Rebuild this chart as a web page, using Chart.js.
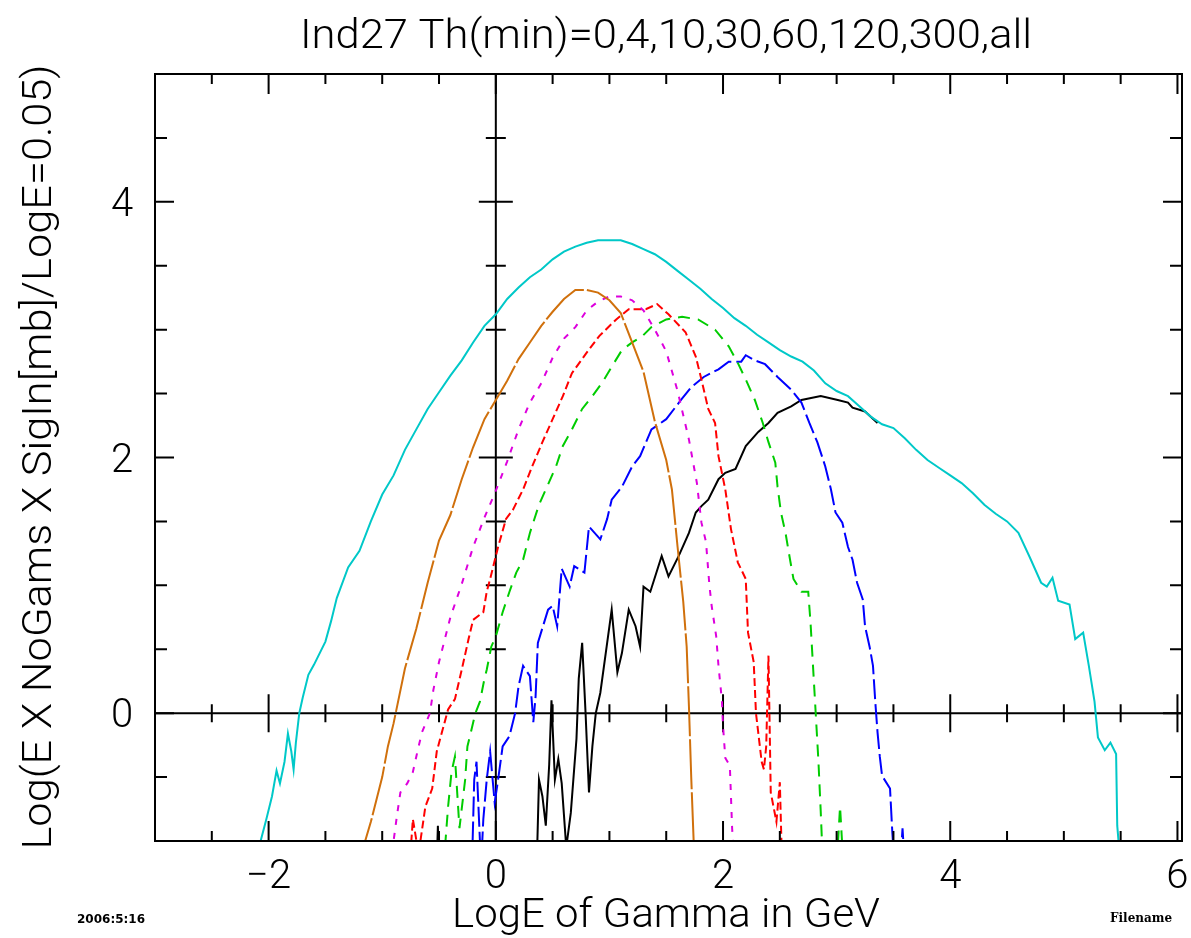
<!DOCTYPE html>
<html>
<head>
<meta charset="utf-8">
<script src="https://cdn.jsdelivr.net/npm/chart.js@4/dist/chart.umd.min.js"></script>
<style>
  html, body { margin: 0; padding: 0; background: #fff; }
  #wrap { width: 1191px; height: 938px; }
</style>
</head>
<body>
<div id="wrap"><canvas id="c"></canvas></div>
<script>
// Spectra, [LogE, value] pairs (values below -1 are clipped)
const thAll = [[-2.15,-1.2],[-2.1,-1.1],[-2.02,-0.83],[-1.97,-0.65],[-1.93,-0.45],[-1.9,-0.55],[-1.86,-0.38],[-1.83,-0.16],[-1.8,-0.3],[-1.78,-0.44],[-1.76,-0.23],[-1.73,0.0],[-1.7,0.12],[-1.65,0.3],[-1.6,0.38],[-1.5,0.56],[-1.45,0.72],[-1.4,0.9],[-1.3,1.14],[-1.2,1.27],[-1.1,1.5],[-1.0,1.71],[-0.9,1.86],[-0.8,2.06],[-0.7,2.22],[-0.6,2.38],[-0.5,2.51],[-0.4,2.64],[-0.3,2.76],[-0.2,2.9],[-0.1,3.03],[0.0,3.12],[0.1,3.24],[0.2,3.33],[0.3,3.41],[0.4,3.47],[0.5,3.55],[0.6,3.61],[0.7,3.65],[0.8,3.68],[0.9,3.7],[1.0,3.7],[1.1,3.7],[1.2,3.67],[1.3,3.63],[1.4,3.59],[1.5,3.53],[1.6,3.46],[1.7,3.39],[1.8,3.32],[1.9,3.24],[2.0,3.17],[2.1,3.09],[2.2,3.03],[2.3,2.96],[2.4,2.9],[2.5,2.84],[2.6,2.79],[2.7,2.75],[2.8,2.68],[2.9,2.58],[3.0,2.52],[3.1,2.48],[3.2,2.4],[3.3,2.32],[3.4,2.26],[3.5,2.23],[3.6,2.15],[3.7,2.06],[3.8,1.98],[3.9,1.92],[4.0,1.86],[4.1,1.8],[4.2,1.72],[4.3,1.63],[4.4,1.56],[4.5,1.5],[4.6,1.41],[4.7,1.22],[4.8,1.02],[4.85,0.99],[4.9,1.06],[4.95,0.88],[5.05,0.85],[5.1,0.58],[5.17,0.63],[5.22,0.37],[5.27,0.09],[5.3,-0.19],[5.36,-0.29],[5.41,-0.23],[5.46,-0.32],[5.47,-0.88],[5.5,-1.2]];
const th4 = [[-1.2,-1.2],[-1.15,-1.0],[-1.1,-0.85],[-1.0,-0.5],[-0.95,-0.26],[-0.9,-0.08],[-0.8,0.35],[-0.7,0.66],[-0.6,1.02],[-0.5,1.35],[-0.4,1.55],[-0.3,1.83],[-0.2,2.08],[-0.1,2.3],[0.0,2.45],[0.1,2.6],[0.2,2.77],[0.3,2.9],[0.4,3.03],[0.5,3.14],[0.6,3.24],[0.7,3.31],[0.8,3.31],[0.9,3.29],[1.0,3.23],[1.1,3.13],[1.2,2.9],[1.3,2.67],[1.4,2.28],[1.5,1.98],[1.55,1.75],[1.6,1.3],[1.65,0.87],[1.68,0.52],[1.7,0.05],[1.72,-0.5],[1.75,-1.2]];
const th10 = [[-0.93,-1.2],[-0.87,-0.8],[-0.84,-0.62],[-0.78,-0.55],[-0.73,-0.46],[-0.69,-0.3],[-0.65,-0.15],[-0.58,0.0],[-0.55,0.18],[-0.5,0.4],[-0.4,0.75],[-0.3,1.01],[-0.2,1.3],[-0.1,1.53],[0.0,1.74],[0.1,1.97],[0.2,2.22],[0.3,2.43],[0.4,2.58],[0.5,2.78],[0.6,2.93],[0.7,3.02],[0.8,3.15],[0.9,3.22],[1.0,3.26],[1.1,3.26],[1.2,3.23],[1.3,3.15],[1.4,3.0],[1.5,2.83],[1.6,2.52],[1.7,2.14],[1.77,1.8],[1.81,1.49],[1.85,1.34],[1.88,1.0],[1.9,0.84],[1.94,0.6],[1.96,0.37],[1.99,0.1],[2.0,-0.1],[2.02,-0.35],[2.06,-0.41],[2.08,-0.9],[2.1,-1.2]];
const th30 = [[-0.76,-1.2],[-0.73,-0.83],[-0.68,-1.1],[-0.62,-0.73],[-0.56,-0.59],[-0.52,-0.3],[-0.49,-0.2],[-0.45,-0.07],[-0.42,0.03],[-0.36,0.11],[-0.3,0.34],[-0.24,0.58],[-0.2,0.73],[-0.11,0.79],[-0.08,0.95],[-0.05,1.05],[0.02,1.3],[0.09,1.52],[0.15,1.59],[0.24,1.75],[0.32,1.93],[0.41,2.12],[0.5,2.3],[0.59,2.48],[0.67,2.66],[0.8,2.82],[0.91,2.95],[1.06,3.08],[1.17,3.16],[1.32,3.16],[1.42,3.2],[1.52,3.12],[1.67,2.98],[1.76,2.79],[1.81,2.61],[1.87,2.38],[1.93,2.27],[1.96,2.01],[2.02,1.75],[2.07,1.44],[2.13,1.18],[2.2,1.05],[2.22,0.63],[2.27,0.4],[2.29,0.0],[2.34,-0.38],[2.36,-0.44],[2.38,-0.26],[2.4,0.45],[2.42,-0.62],[2.47,-0.85],[2.5,-0.54],[2.52,-1.2]];
const th60 = [[-0.46,-1.2],[-0.42,-0.73],[-0.39,-0.46],[-0.36,-0.34],[-0.32,-0.9],[-0.27,-0.52],[-0.25,-0.26],[-0.22,-0.15],[-0.18,0.0],[-0.14,0.09],[-0.1,0.27],[-0.08,0.34],[-0.04,0.52],[0.0,0.6],[0.06,0.79],[0.12,0.95],[0.18,1.1],[0.24,1.2],[0.3,1.41],[0.38,1.63],[0.45,1.77],[0.53,1.93],[0.59,2.09],[0.67,2.22],[0.76,2.38],[0.85,2.48],[0.94,2.59],[1.02,2.71],[1.11,2.84],[1.2,2.9],[1.29,2.95],[1.37,3.02],[1.5,3.08],[1.64,3.1],[1.78,3.08],[1.93,3.0],[2.05,2.87],[2.13,2.74],[2.2,2.61],[2.28,2.45],[2.35,2.27],[2.4,2.12],[2.46,1.96],[2.48,1.77],[2.51,1.57],[2.55,1.41],[2.59,1.2],[2.62,1.05],[2.69,0.95],[2.75,0.95],[2.77,0.71],[2.79,0.4],[2.81,0.09],[2.84,-0.38],[2.86,-0.77],[2.88,-1.2],[3.0,-1.2],[3.03,-0.73],[3.06,-1.2]];
const th120 = [[-0.21,-1.2],[-0.19,-0.52],[-0.17,-0.38],[-0.13,-1.2],[-0.11,-0.83],[-0.08,-0.52],[-0.05,-0.3],[-0.01,-0.7],[0.02,-0.52],[0.06,-0.26],[0.12,-0.18],[0.17,0.0],[0.2,0.21],[0.24,0.37],[0.3,0.29],[0.33,-0.07],[0.35,0.13],[0.37,0.55],[0.46,0.81],[0.5,0.84],[0.54,0.68],[0.58,1.13],[0.65,0.99],[0.69,1.15],[0.78,1.1],[0.82,1.46],[0.92,1.36],[0.98,1.52],[1.02,1.67],[1.11,1.77],[1.2,1.93],[1.27,2.01],[1.37,2.22],[1.5,2.3],[1.63,2.45],[1.72,2.55],[1.83,2.63],[1.96,2.69],[2.05,2.75],[2.16,2.75],[2.2,2.8],[2.28,2.76],[2.37,2.73],[2.48,2.63],[2.6,2.53],[2.69,2.43],[2.76,2.27],[2.83,2.12],[2.9,1.93],[2.95,1.75],[2.99,1.57],[3.05,1.49],[3.1,1.3],[3.14,1.2],[3.18,1.02],[3.23,0.89],[3.25,0.68],[3.29,0.52],[3.32,0.37],[3.34,0.09],[3.36,-0.15],[3.38,-0.34],[3.4,-0.49],[3.47,-0.59],[3.49,-0.93],[3.51,-1.2],[3.56,-1.2],[3.58,-0.9],[3.6,-1.2]];
const th300 = [[-0.52,-1.2],[-0.51,-0.88],[-0.5,-1.2],[0.36,-1.2],[0.38,-0.52],[0.41,-0.65],[0.44,-0.88],[0.47,-0.4],[0.49,0.1],[0.52,-0.52],[0.55,-0.36],[0.58,-0.55],[0.62,-1.05],[0.66,-0.78],[0.71,-0.2],[0.73,0.27],[0.76,0.55],[0.79,0.0],[0.82,-0.62],[0.85,-0.26],[0.88,0.0],[0.92,0.16],[0.98,0.55],[1.02,0.81],[1.07,0.32],[1.11,0.47],[1.17,0.81],[1.23,0.68],[1.27,0.52],[1.3,0.99],[1.36,0.95],[1.46,1.23],[1.52,1.07],[1.61,1.23],[1.7,1.41],[1.76,1.57],[1.81,1.62],[1.87,1.67],[1.96,1.83],[2.02,1.88],[2.11,1.91],[2.2,2.09],[2.31,2.2],[2.4,2.27],[2.48,2.35],[2.6,2.4],[2.69,2.45],[2.86,2.48],[3.01,2.45],[3.1,2.43],[3.14,2.39],[3.25,2.36],[3.36,2.27]];

// Axis ticks and labels
const xMajor = [-2, 0, 2, 4, 6];
const xTickLabels = ['\u22122', '0', '2', '4', '6'];
const yMajor = [0, 2, 4];
const yTickLabels = ['0', '2', '4'];
const minorStep = 0.5;

const titleText = 'Ind27 Th(min)=0,4,10,30,60,120,300,all';
const xTitle = 'LogE of Gamma in GeV';
const yTitle = 'Log(E X NoGams X SigIn[mb]/LogE=0.05)';

function toPoints(arr) {
  return arr.map(p => ({ x: p[0], y: p[1] }));
}

function series(data, color, dash) {
  return {
    data: toPoints(data),
    borderColor: color,
    borderWidth: 2,
    borderDash: dash,
    pointRadius: 0,
    tension: 0,
    fill: false,
    clip: 0
  };
}

// draw centred text stretched or squeezed to an exact width
function fitText(ctx, str, cx, y, width) {
  const w = ctx.measureText(str).width;
  ctx.save();
  ctx.translate(cx, y);
  ctx.scale(width / w, 1);
  ctx.textAlign = 'center';
  ctx.fillText(str, 0, 0);
  ctx.restore();
}

// Frame, zero axes, ticks and text drawn PAW style
const pawAxes = {
  id: 'pawAxes',
  beforeDatasetsDraw(chart) {
    const ctx = chart.ctx;
    const xs = chart.scales.x, ys = chart.scales.y;
    const a = chart.chartArea;
    const x0 = xs.getPixelForValue(0), y0 = ys.getPixelForValue(0);
    ctx.save();
    ctx.strokeStyle = '#000';
    ctx.lineWidth = 2;
    ctx.beginPath();
    ctx.moveTo(a.left, y0); ctx.lineTo(a.right, y0);
    ctx.moveTo(x0, a.top); ctx.lineTo(x0, a.bottom);
    // crossing ticks on the zero lines
    for (let v = -3; v <= 6.001; v += minorStep) {
      const px = xs.getPixelForValue(v);
      const len = xMajor.includes(v) ? 19 : 9;
      ctx.moveTo(px, y0 - len); ctx.lineTo(px, y0 + len);
    }
    for (let v = -1; v <= 5.001; v += minorStep) {
      const py = ys.getPixelForValue(v);
      const len = yMajor.includes(v) ? 17 : 10;
      ctx.moveTo(x0 - len, py); ctx.lineTo(x0 + len, py);
    }
    ctx.stroke();
    ctx.restore();
  },
  afterDatasetsDraw(chart) {
    const ctx = chart.ctx;
    const xs = chart.scales.x, ys = chart.scales.y;
    const a = chart.chartArea;
    ctx.save();
    ctx.strokeStyle = '#000';
    ctx.lineWidth = 2;
    ctx.strokeRect(a.left, a.top, a.right - a.left, a.bottom - a.top);
    ctx.beginPath();
    for (let v = -3; v <= 6.001; v += minorStep) {
      const px = xs.getPixelForValue(v);
      const len = xMajor.includes(v) ? 20 : 10;
      ctx.moveTo(px, a.bottom); ctx.lineTo(px, a.bottom - len);
      ctx.moveTo(px, a.top); ctx.lineTo(px, a.top + len);
    }
    for (let v = -1; v <= 5.001; v += minorStep) {
      const py = ys.getPixelForValue(v);
      const len = yMajor.includes(v) ? 19 : 12;
      ctx.moveTo(a.left, py); ctx.lineTo(a.left + len, py);
      ctx.moveTo(a.right, py); ctx.lineTo(a.right - len, py);
    }
    ctx.stroke();

    ctx.fillStyle = '#000';
    ctx.textBaseline = 'alphabetic';
    ctx.font = "300 41px Roboto, 'DejaVu Sans', sans-serif";
    fitText(ctx, titleText, 666, 48, 732);

    ctx.font = "300 40px Roboto, 'DejaVu Sans', sans-serif";
    ctx.textAlign = 'center';
    xMajor.forEach((v, i) => {
      ctx.fillText(xTickLabels[i], xs.getPixelForValue(v), 888);
    });
    yMajor.forEach((v, i) => {
      ctx.fillText(yTickLabels[i], 122, ys.getPixelForValue(v) + 14);
    });
    fitText(ctx, xTitle, 666, 927, 428);

    ctx.save();
    ctx.translate(51, 457);
    ctx.rotate(-Math.PI / 2);
    fitText(ctx, yTitle, 0, 0, 785);
    ctx.restore();

    ctx.font = "bold 12px 'DejaVu Sans', sans-serif";
    ctx.textAlign = 'left';
    ctx.fillText('2006:5:16', 77, 923, 75);
    ctx.font = "bold 12px 'DejaVu Serif', serif";
    ctx.fillText('Filename', 1110, 922, 70);
    ctx.restore();
  }
};

new Chart(document.getElementById('c'), {
  type: 'line',
  data: {
    datasets: [
      series(thAll, '#00c8c8', []),
      series(th4, '#d0700c', [50, 3]),
      series(th10, '#dd00dd', [6, 8]),
      series(th30, '#ff0000', [8, 4]),
      series(th60, '#00cc00', [12, 8]),
      series(th120, '#0000ff', [20, 5]),
      series(th300, '#000000', [])
    ]
  },
  options: {
    responsive: true,
    maintainAspectRatio: false,
    animation: false,
    layout: { padding: { left: 155, right: 9, top: 74, bottom: 97 } },
    scales: {
      x: { type: 'linear', min: -3, max: 6.04, display: false },
      y: { type: 'linear', min: -1, max: 5, display: false }
    },
    plugins: { legend: { display: false }, tooltip: { enabled: false } }
  },
  plugins: [pawAxes]
});
</script>
</body>
</html>
